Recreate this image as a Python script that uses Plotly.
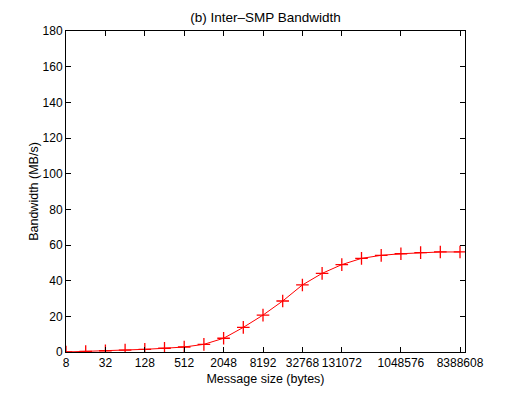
import plotly.graph_objects as go

msg_sizes = [8, 16, 32, 64, 128, 256, 512, 1024, 2048, 4096, 8192, 16384, 32768,
             65536, 131072, 262144, 524288, 1048576, 2097152, 4194304, 8388608]
bandwidth = [0.0, 0.3, 0.7, 1.1, 1.5, 2.1, 2.8, 4.3, 7.7, 13.8, 20.7, 28.6, 37.6,
             44.1, 49.0, 52.5, 54.2, 55.1, 55.7, 56.1, 56.1]
x_ticks = [8, 32, 128, 512, 2048, 8192, 32768, 131072, 1048576, 8388608]
x_tick_labels = [str(v) for v in x_ticks]
y_ticks = list(range(0, 181, 20))

fig = go.Figure()
fig.add_trace(go.Scatter(
    x=msg_sizes, y=bandwidth, mode="lines+markers",
    line=dict(color="#ff0000", width=1),
    marker=dict(symbol="cross-thin", size=9, line=dict(color="#ff0000", width=1.3)),
    showlegend=False,
))

# page body has an 8px default margin; figure sized to keep plot area aligned
W, H = 506, 388
font = dict(family="Liberation Sans, Arial, sans-serif", size=12, color="black")
fig.update_layout(
    width=W, height=H,
    margin=dict(l=58, r=49, t=23, b=44),
    paper_bgcolor="white", plot_bgcolor="white",
    font=font,
    title=dict(text="(b) Inter\u2013SMP Bandwidth", x=(58 + 457) / 2 / W, xanchor="center",
               y=1 - 9 / H, yanchor="middle", font=dict(size=13.5)),
)
fig.update_xaxes(
    type="log", range=[0.90309, 7.0],
    tickvals=x_ticks, ticktext=x_tick_labels,
    ticks="inside", ticklen=5, tickcolor="black",
    showline=True, linecolor="black", linewidth=1, mirror="ticks",
    showgrid=False, zeroline=False,
    title=dict(text="Message size (bytes)", font=dict(size=12.5), standoff=4),
    tickfont=dict(size=12),
)
fig.update_yaxes(
    range=[0, 180], tickvals=y_ticks,
    ticks="inside", ticklen=5, tickcolor="black",
    showline=True, linecolor="black", linewidth=1, mirror="ticks",
    showgrid=False, zeroline=False,
    title=dict(text="Bandwidth (MB/s)", font=dict(size=12.5), standoff=1),
    tickfont=dict(size=12),
)
fig.write_html("out.html")
